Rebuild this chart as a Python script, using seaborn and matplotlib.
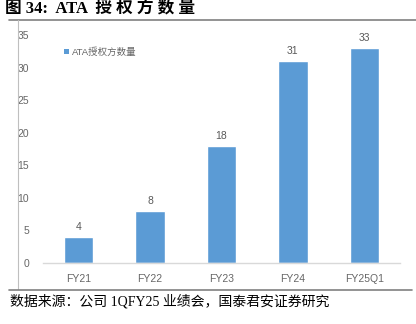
import matplotlib
matplotlib.use("Agg")
import matplotlib.pyplot as plt
import seaborn as sns
import pandas as pd
from matplotlib.lines import Line2D
from matplotlib.patches import Patch

categories = ["FY21", "FY22", "FY23", "FY24", "FY25Q1"]
values = [4, 8, 18, 31, 33]
series_name = "ATA授权方数量"
yticks = [0, 5, 10, 15, 20, 25, 30, 35]

sns.set_theme(style="white")
plt.rcParams['font.family'] = ['Liberation Sans', 'Noto Sans CJK SC', 'DejaVu Sans']

df = pd.DataFrame({"cat": categories, "val": values})

W, H = 416, 324
fig = plt.figure(figsize=(W / 100, H / 100), dpi=100)
ax = fig.add_axes([43 / W, 1 - 263 / H, (400 - 43) / W, (263 - 35) / H])

color = "#5B9BD5"
sns.barplot(data=df, x="cat", y="val", color=color, width=0.41, ax=ax, saturation=1)

ax.set_ylim(0, 35)
ax.set_xlim(-0.5, len(categories) - 0.5)
ax.set_yticks(yticks)
ax.set_xlabel("")
ax.set_ylabel("")
for s in ["top", "right", "left"]:
    ax.spines[s].set_visible(False)
ax.spines["bottom"].set_color("#D9D9D9")
ax.spines["bottom"].set_linewidth(1.0)
ax.tick_params(axis="both", length=0, labelsize=7.5, colors="#666666")
ax.tick_params(axis="x", pad=8)
ax.tick_params(axis="y", pad=10)

for i, v in enumerate(values):
    ax.text(i, v + 0.8, str(v), ha="center", va="bottom", fontsize=7.5, color="#595959")

handle = Patch(facecolor=color, edgecolor="none")
ax.legend([handle], [series_name], loc="upper left", bbox_to_anchor=(0.035, 0.985),
          frameon=False, handlelength=0.5, handleheight=0.5,
          handletextpad=0.3, labelcolor="#666666",
          prop={"family": ["Liberation Sans", "Noto Sans CJK SC"], "size": 6.8})

# frame lines
fig.add_artist(Line2D([9 / W, 1.0], [1 - 19.5 / H, 1 - 19.5 / H], color="#808080", lw=1.2))
fig.add_artist(Line2D([17.5 / W, 17.5 / W], [1 - 19.5 / H, 1 - 289 / H], color="#BFBFBF", lw=0.8))
fig.add_artist(Line2D([9 / W, 412 / W], [1 - 290 / H, 1 - 290 / H], color="#808080", lw=1.2))

fig.text(5 / W, 1 - 9 / H, "图 34:  ATA  授 权 方 数 量", fontsize=12, fontweight="bold",
         family=["Liberation Serif", "Noto Sans CJK SC"], va="center", ha="left", color="#000000")
fig.text(10 / W, 1 - 301 / H, "数据来源：公司 1QFY25 业绩会，国泰君安证券研究", fontsize=10,
         family=["Liberation Serif", "Noto Sans CJK SC"], va="center", ha="left", color="#000000")

fig.savefig("out.png", dpi=100)
